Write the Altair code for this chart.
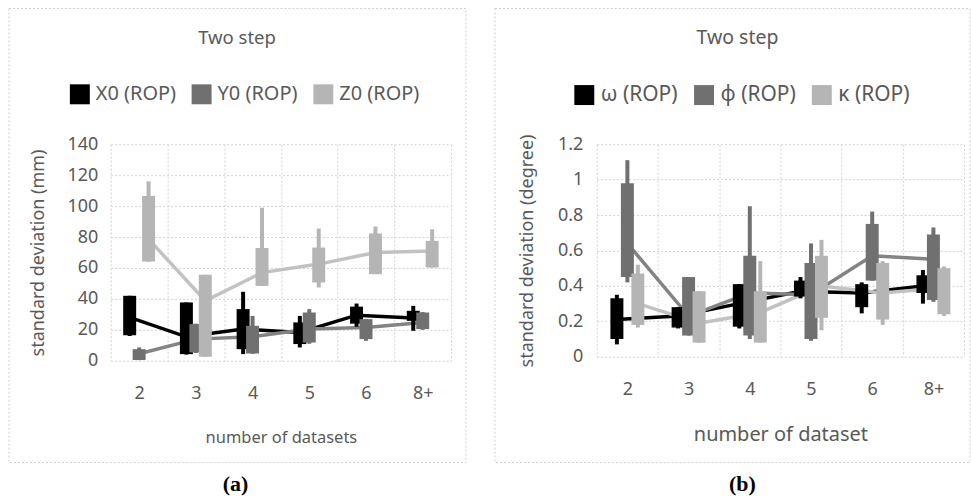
import altair as alt
import pandas as pd

# ---------------- data ----------------
cats = ["2", "3", "4", "5", "6", "8+"]

# panel (a): standard deviation (mm)
series_a = ["X0 (ROP)", "Y0 (ROP)", "Z0 (ROP)"]
X0_low = [16, 4, 4.3, 8.6, 22, 19.4]
X0_q1 = [16.5, 4.3, 7.5, 10.8, 24, 25.8]
X0_q3 = [42, 37.7, 33.4, 24.8, 35, 32.3]
X0_high = [42, 37.7, 44.6, 29, 37, 35.5]
X0_mid = [28, 15.5, 20.5, 18.3, 29.5, 27.6]

Y0_low = [0.4, 5, 4.5, 11, 12.9, 20]
Y0_q1 = [0.5, 5.4, 4.7, 11.8, 14, 20.5]
Y0_q3 = [7.5, 23.7, 22.6, 31.2, 26.9, 31.2]
Y0_high = [8.6, 24, 29, 33.4, 27, 31.5]
Y0_mid = [4.5, 14, 15.5, 20.5, 21.5, 24.8]

Z0_low = [64, 2.6, 48.4, 47.4, 56, 60.3]
Z0_q1 = [64.2, 2.6, 48.4, 50.6, 56, 60.3]
Z0_q3 = [106.6, 55.6, 72.9, 73.2, 82.3, 77.5]
Z0_high = [116, 55.6, 98.9, 85.5, 86.8, 85]
Z0_mid = [78.6, 38.8, 57, 62.5, 70, 71]

yticks_a = [0, 20, 40, 60, 80, 100, 120, 140]

# panel (b): standard deviation (degree)
series_b = ["ω (ROP)", "φ (ROP)", "κ (ROP)"]
om_low = [0.07, 0.16, 0.16, 0.33, 0.245, 0.30]
om_q1 = [0.10, 0.165, 0.17, 0.34, 0.28, 0.36]
om_q3 = [0.33, 0.28, 0.41, 0.43, 0.41, 0.46]
om_high = [0.35, 0.28, 0.41, 0.45, 0.42, 0.49]
om_mid = [0.21, 0.23, 0.30, 0.37, 0.36, 0.40]

ph_low = [0.42, 0.12, 0.10, 0.09, 0.43, 0.31]
ph_q1 = [0.45, 0.12, 0.12, 0.10, 0.43, 0.32]
ph_q3 = [0.98, 0.45, 0.57, 0.53, 0.75, 0.69]
ph_high = [1.11, 0.45, 0.85, 0.64, 0.82, 0.73]
ph_mid = [0.64, 0.23, 0.36, 0.35, 0.57, 0.55]

ka_low = [0.165, 0.08, 0.08, 0.15, 0.18, 0.23]
ka_q1 = [0.18, 0.08, 0.08, 0.22, 0.21, 0.24]
ka_q3 = [0.47, 0.37, 0.37, 0.57, 0.53, 0.50]
ka_high = [0.52, 0.37, 0.54, 0.66, 0.54, 0.51]
ka_mid = [0.30, 0.19, 0.25, 0.40, 0.36, 0.39]

yticks_b = [0, 0.2, 0.4, 0.6, 0.8, 1.0, 1.2]

box_colors = ["#000000", "#707070", "#b5b5b5"]
line_colors = ["#000000", "#838383", "#c2c2c2"]

TXT = "#595959"
FONT = "Noto Sans"


def build_df(series, lows, q1s, q3s, highs, mids):
    rows = []
    for i, s in enumerate(series):
        for j, c in enumerate(cats):
            rows.append(dict(cat=c, series=s, line=s + " line", low=lows[i][j],
                             q1=q1s[i][j], q3=q3s[i][j], high=highs[i][j],
                             mid=mids[i][j]))
    return pd.DataFrame(rows)


def panel(df, series, yticks, ymax, ytitle, xtitle, caption, w, h, lay):
    xaxis = alt.Axis(title=xtitle, tickBand="extent", grid=True, gridDash=[2, 2],
                     gridColor="#d2d2d2", domain=False, ticks=False, tickSize=0,
                     labelAngle=0, labelFont=FONT, labelFontSize=18, labelColor=TXT,
                     labelPadding=24, titleFont=FONT, titleFontSize=lay["xts"],
                     titleFontWeight="normal", titleColor=TXT, titleY=lay["xty"],
                     titleBaseline="middle")
    yaxis = alt.Axis(title=ytitle, values=yticks, format=lay["fmt"], grid=True,
                     gridDash=[2, 2], gridColor="#d2d2d2", domain=False, ticks=False,
                     tickSize=0, labelFont=FONT, labelFontSize=18, labelColor=TXT,
                     labelPadding=lay["ylp"], titleFont=FONT, titleFontSize=18,
                     titleFontWeight="normal", titleColor=TXT, titleX=lay["ytx"],
                     titleBaseline="middle")
    xs = alt.Scale(paddingInner=0, paddingOuter=0)
    # two empty slots flank the three series so the boxes sit close together
    xo = alt.XOffset("series:N",
                     scale=alt.Scale(domain=["_l"] + series + ["_r"],
                                     paddingOuter=lay["po"], paddingInner=0))
    ys = alt.Scale(domain=[0, ymax], nice=False)
    legend = alt.Legend(orient="none", legendX=lay["lx"], legendY=-60,
                        direction="horizontal", title=None, symbolType="square",
                        symbolSize=400, symbolStrokeWidth=0, labelFont=FONT,
                        labelFontSize=lay["lfs"], labelColor=TXT,
                        labelOffset=6, columnPadding=15, padding=0)
    color = alt.Color("series:N", sort=series,
                      scale=alt.Scale(domain=series, range=box_colors), legend=legend)
    X = alt.X("cat:N", sort=cats, scale=xs, axis=xaxis)

    base = alt.Chart(df)
    lines = base.mark_line(strokeWidth=3.5).encode(
        x=X, xOffset=xo,
        y=alt.Y("mid:Q", scale=ys, axis=yaxis),
        stroke=alt.Stroke("line:N",
                          scale=alt.Scale(domain=[s + " line" for s in series],
                                          range=line_colors),
                          legend=None),
    )
    whisk = base.mark_rule(strokeWidth=4).encode(
        x=X, xOffset=xo,
        y=alt.Y("low:Q", scale=ys, axis=yaxis), y2="high:Q",
        color=color,
    )
    boxes = base.mark_bar(width=13).encode(
        x=X, xOffset=xo,
        y=alt.Y("q1:Q", scale=ys, axis=yaxis), y2="q3:Q",
        color=color,
    )
    one = alt.Data(values=[{"k": 1}])
    frame = alt.Chart(one).mark_rect(fillOpacity=0, stroke="#cfcfcf", strokeWidth=1,
                                     strokeDash=[2, 2]).encode(
        x=alt.value(-102), x2=alt.value(lay["fx2"]),
        y=alt.value(-136), y2=alt.value(319))
    title = alt.Chart(one).mark_text(text="Two step", font=FONT, fontSize=lay["tfs"],
                                     color=TXT, align="center", baseline="middle").encode(
        x=alt.value(lay["tx"]), y=alt.value(-106))
    cap = alt.Chart(one).mark_text(text=caption, font="Liberation Serif",
                                   fontWeight="bold", fontSize=22, color="#000000",
                                   align="center", baseline="middle").encode(
        x=alt.value(lay["cx"]), y=alt.value(341))
    return alt.layer(frame, title, cap, lines, whisk, boxes).properties(width=w, height=h)


df_a = build_df(series_a, [X0_low, Y0_low, Z0_low], [X0_q1, Y0_q1, Z0_q1],
                [X0_q3, Y0_q3, Z0_q3], [X0_high, Y0_high, Z0_high],
                [X0_mid, Y0_mid, Z0_mid])
df_b = build_df(series_b, [om_low, ph_low, ka_low], [om_q1, ph_q1, ka_q1],
                [om_q3, ph_q3, ka_q3], [om_high, ph_high, ka_high],
                [om_mid, ph_mid, ka_mid])

pa = panel(df_a, series_a, yticks_a, 140, "standard deviation (mm)", "number of datasets",
           "(a)", 341, 217,
           dict(xts=16.5, xty=77, ylp=13, ytx=-72, po=0.5, lx=-41, lfs=20, fx2=356,
                tfs=18.5, tx=126.5, cx=125, fmt="d"))
pb = panel(df_b, series_b, yticks_b, 1.2, "standard deviation (degree)", "number of dataset",
           "(b)", 368, 213,
           dict(xts=20, xty=78, ylp=14, ytx=-69, po=0.42, lx=-23, lfs=21, fx2=374,
                tfs=19.5, tx=141, cx=146, fmt="~r"))

chart = alt.hconcat(pa, pb, spacing=27).resolve_scale(
    color="independent", stroke="independent", xOffset="independent",
    x="independent", y="independent"
).resolve_legend(color="independent").properties(
    padding={"left": 8, "top": 7, "right": 0, "bottom": 0}
).configure_view(strokeWidth=0)

chart.save("out.html", embed_options={"renderer": "svg", "actions": False})
